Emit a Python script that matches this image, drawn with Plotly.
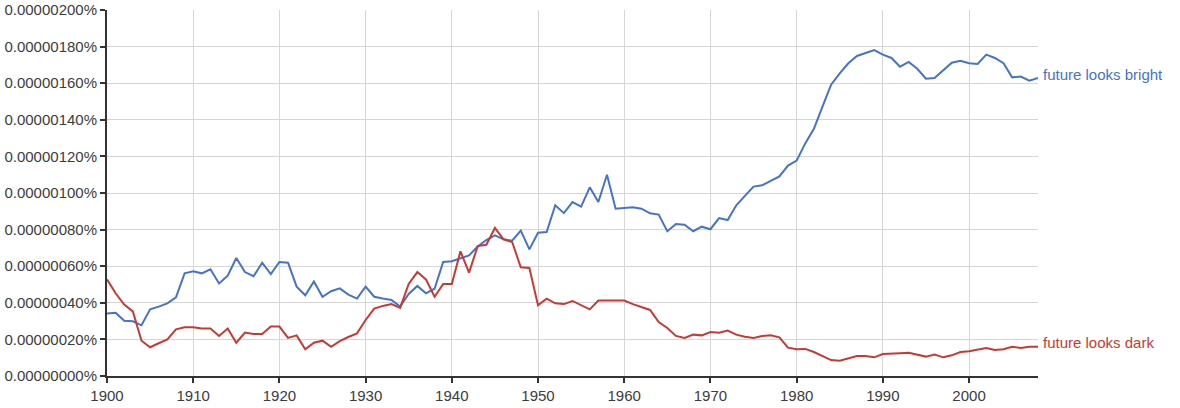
import plotly.graph_objects as go

years = list(range(1900, 2009))

# values in percent
bright = [
    0.000000342, 0.000000346, 0.000000302, 0.000000299, 0.000000277, 0.000000364, 0.000000379, 0.000000397, 0.000000430, 0.000000561,
    0.000000572, 0.000000561, 0.000000583, 0.000000506, 0.000000548, 0.000000645, 0.000000568, 0.000000545, 0.000000619, 0.000000557,
    0.000000623, 0.000000619, 0.000000488, 0.000000441, 0.000000517, 0.000000433, 0.000000463, 0.000000479, 0.000000445, 0.000000423,
    0.000000488, 0.000000433, 0.000000423, 0.000000415, 0.000000379, 0.000000448, 0.000000492, 0.000000452, 0.000000477, 0.000000623,
    0.000000627, 0.000000641, 0.000000659, 0.000000707, 0.000000743, 0.000000769, 0.000000747, 0.000000739, 0.000000794, 0.000000692,
    0.000000783, 0.000000787, 0.000000933, 0.000000890, 0.000000950, 0.000000925, 0.000001031, 0.000000951, 0.000001100, 0.000000914,
    0.000000918, 0.000000922, 0.000000914, 0.000000889, 0.000000882, 0.000000791, 0.000000831, 0.000000827, 0.000000791, 0.000000816,
    0.000000802, 0.000000863, 0.000000852, 0.000000933, 0.000000984, 0.000001035, 0.000001042, 0.000001067, 0.000001091, 0.000001150,
    0.000001177, 0.000001271, 0.000001351, 0.000001472, 0.000001592, 0.000001654, 0.000001709, 0.000001749, 0.000001767, 0.000001781,
    0.000001756, 0.000001738, 0.000001690, 0.000001716, 0.000001679, 0.000001625, 0.000001628, 0.000001672, 0.000001712, 0.000001723,
    0.000001709, 0.000001705, 0.000001756, 0.000001738, 0.000001709, 0.000001632, 0.000001636, 0.000001614, 0.000001628,
]

dark = [
    0.000000528, 0.000000452, 0.000000390, 0.000000353, 0.000000193, 0.000000157, 0.000000179, 0.000000200, 0.000000255, 0.000000266,
    0.000000266, 0.000000259, 0.000000259, 0.000000219, 0.000000259, 0.000000182, 0.000000237, 0.000000230, 0.000000230, 0.000000270,
    0.000000270, 0.000000208, 0.000000222, 0.000000146, 0.000000182, 0.000000193, 0.000000160, 0.000000191, 0.000000213, 0.000000233,
    0.000000306, 0.000000368, 0.000000383, 0.000000393, 0.000000372, 0.000000503, 0.000000568, 0.000000528, 0.000000433, 0.000000503,
    0.000000503, 0.000000681, 0.000000565, 0.000000710, 0.000000717, 0.000000809, 0.000000747, 0.000000732, 0.000000594, 0.000000590,
    0.000000386, 0.000000423, 0.000000397, 0.000000393, 0.000000410, 0.000000386, 0.000000364, 0.000000412, 0.000000412, 0.000000415,
    0.000000412, 0.000000393, 0.000000375, 0.000000361, 0.000000295, 0.000000262, 0.000000219, 0.000000208, 0.000000226, 0.000000222,
    0.000000240, 0.000000237, 0.000000248, 0.000000226, 0.000000215, 0.000000208, 0.000000219, 0.000000222, 0.000000211, 0.000000155,
    0.000000146, 0.000000148, 0.000000131, 0.000000109, 0.000000087, 0.000000084, 0.000000095, 0.000000109, 0.000000109, 0.000000102,
    0.000000120, 0.000000120, 0.000000124, 0.000000127, 0.000000117, 0.000000106, 0.000000117, 0.000000102, 0.000000113, 0.000000131,
    0.000000135, 0.000000142, 0.000000153, 0.000000142, 0.000000146, 0.000000160, 0.000000153, 0.000000160, 0.000000160,
]

series_names = ["future looks bright", "future looks dark"]
x_ticks = list(range(1900, 2001, 10))
y_ticks = [i * 0.0000002 for i in range(11)]
y_tick_text = [f"{v:.8f}%" for v in y_ticks]

BLUE = "#4673c8"
RED = "#c43b33"
FONT = "Liberation Sans, Arial, sans-serif"

fig = go.Figure()
for name, ys, col in [(series_names[0], bright, BLUE), (series_names[1], dark, RED)]:
    fig.add_trace(go.Scatter(x=years, y=ys, mode="lines", name=name,
                             line=dict(color=col, width=2), hoverinfo="skip"))
    fig.add_annotation(x=years[-1], y=ys[-1], text=name, showarrow=False,
                       xanchor="left", yanchor="middle", xshift=3, yshift=4,
                       font=dict(family=FONT, size=15, color=col))

fig.update_layout(
    width=1180, height=408,
    margin=dict(l=107, r=142, t=10, b=32),
    paper_bgcolor="white", plot_bgcolor="white",
    showlegend=False,
    font=dict(family=FONT, size=15, color="#333333"),
)
fig.update_xaxes(
    range=[1900, 2008], tickvals=x_ticks, ticktext=[str(t) for t in x_ticks],
    showgrid=True, gridcolor="#d6d6d6", gridwidth=1,
    showline=True, linecolor="#333333", linewidth=2,
    ticks="outside", ticklen=5, tickcolor="#333333", tickwidth=2,
    zeroline=False, automargin=False, tickfont=dict(size=15, color="#3c3c3c"),
)
fig.update_yaxes(
    range=[0, 0.000002], tickvals=y_ticks, ticktext=y_tick_text,
    showgrid=True, gridcolor="#d6d6d6", gridwidth=1,
    showline=True, linecolor="#333333", linewidth=2,
    ticks="outside", ticklen=5, tickcolor="#333333", tickwidth=2,
    zeroline=False, automargin=False, tickfont=dict(size=15, color="#3c3c3c"),
)

fig.write_html(
    "out.html",
    config={"displayModeBar": False, "staticPlot": True},
    post_script="document.body.style.margin='0';document.body.style.overflow='hidden';",
)
